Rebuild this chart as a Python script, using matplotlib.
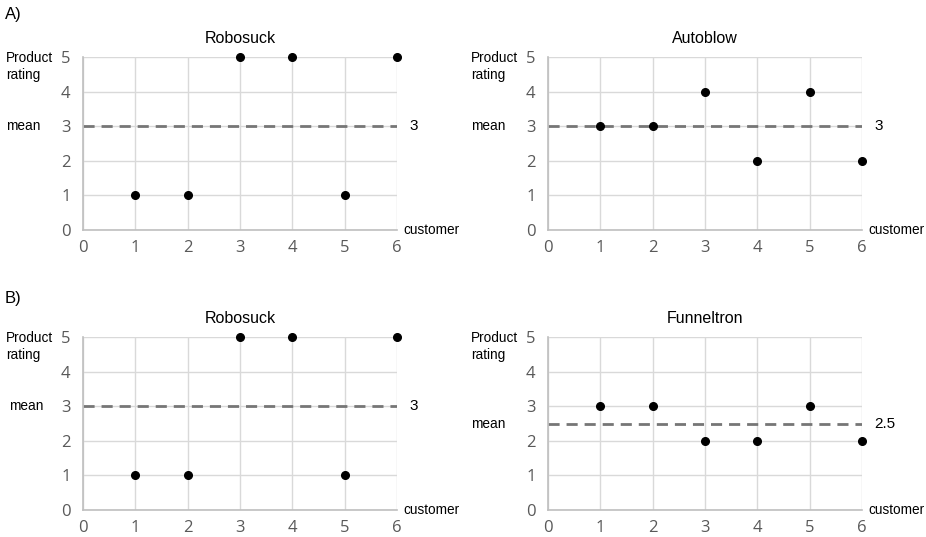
import matplotlib
matplotlib.use("Agg")
import matplotlib.pyplot as plt
import numpy as np

customers = [1, 2, 3, 4, 5, 6]
robosuck = [1, 1, 5, 5, 1, 5]
autoblow = [3, 3, 4, 2, 4, 2]
funneltron = [3, 3, 2, 2, 3, 2]

panels = [
    ("Robosuck", robosuck),
    ("Autoblow", autoblow),
    ("Robosuck", robosuck),
    ("Funneltron", funneltron),
]
row_labels = ["A)", "B)"]

plt.rcParams['font.family'] = ['Liberation Sans', 'DejaVu Sans']

fig = plt.figure(figsize=(9.26, 5.37), dpi=100)
W, H = 926.0, 537.0

# axes boxes in pixels: (left, top, right, bottom)
boxes = [
    (83, 57, 397, 230),
    (548, 57, 862, 230),
    (83, 337, 397, 510),
    (548, 337, 862, 510),
]
label_x = [6, 471, 6, 471]
mean_x = [6, 471, 9, 471]

tick_color = '#595959'
for i, ((title, vals), (l, t, r, b)) in enumerate(zip(panels, boxes)):
    ax = fig.add_axes([l / W, 1 - b / H, (r - l) / W, (b - t) / H])
    ax.set_xlim(0, 6)
    ax.set_ylim(0, 5)
    ax.set_xticks(range(0, 7))
    ax.set_yticks(range(0, 6))
    ax.grid(True, color='#d9d9d9', linewidth=1.0)
    ax.set_axisbelow(True)
    for s in ['top', 'right']:
        ax.spines[s].set_visible(False)
    for s in ['left', 'bottom']:
        ax.spines[s].set_color('#bfbfbf')
        ax.spines[s].set_linewidth(1.2)
    ax.tick_params(length=0, labelsize=12, labelcolor=tick_color)
    ax.tick_params(axis='x', pad=7.5)
    ax.tick_params(axis='y', pad=9)
    for lab in ax.get_xticklabels() + ax.get_yticklabels():
        lab.set_family('Open Sans')

    m = np.mean(vals)
    ax.plot([0, 6], [m, m], linestyle=(0, (4, 2.5)), color='#767676', linewidth=2)
    ax.plot(customers, vals, 'o', color='black', markersize=5.5, clip_on=False, zorder=5)

    ax.set_title(title, fontsize=11.5, pad=10)

    # labels around the axes
    ax.text(1.04, m, f"{m:g}", transform=ax.get_yaxis_transform(), fontsize=11,
            va='center', ha='left')
    ax.text(1.02, 0.0, "customer", transform=ax.transAxes, fontsize=9.8,
            va='center', ha='left')
    fig.text(label_x[i] / W, 1 - (t + 9.5) / H, "Product\nrating", fontsize=9.8,
             va='center', ha='left', linespacing=1.25)
    fig.text(mean_x[i] / W, 1 - (t + (5 - m) / 5 * (b - t)) / H, "mean", fontsize=9.8,
             va='center', ha='left')

fig.text(5 / W, 1 - 15 / H, row_labels[0], fontsize=12, va='center', ha='left')
fig.text(5 / W, 1 - 298 / H, row_labels[1], fontsize=12, va='center', ha='left')

fig.savefig("out.png", dpi=100)
